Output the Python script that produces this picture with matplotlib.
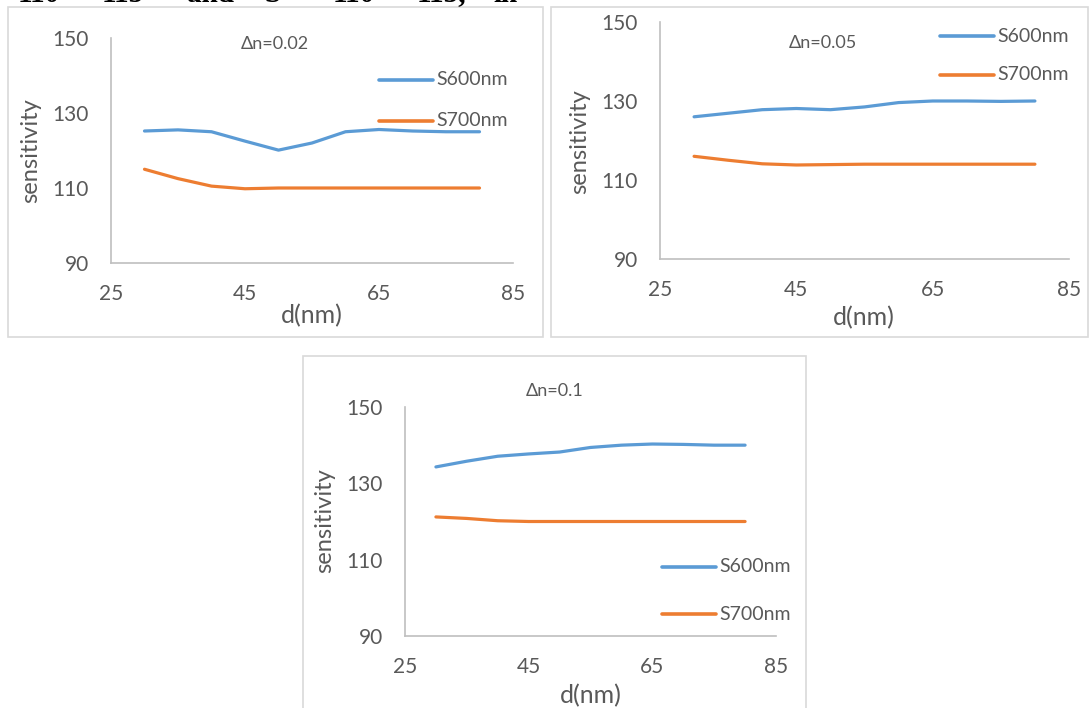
import matplotlib.pyplot as plt
from matplotlib.lines import Line2D
from matplotlib.patches import Rectangle

## data
d = [30, 35, 40, 45, 50, 55, 60, 65, 70, 75, 80]

s600_002 = [125.2, 125.5, 125.0, 122.5, 120.1, 122.0, 125.0, 125.6, 125.2, 125.0, 125.0]
s700_002 = [115.0, 112.5, 110.5, 109.8, 110.0, 110.0, 110.0, 110.0, 110.0, 110.0, 110.0]

s600_005 = [126.0, 126.9, 127.8, 128.1, 127.8, 128.5, 129.6, 130.0, 130.0, 129.9, 130.0]
s700_005 = [116.0, 115.0, 114.1, 113.8, 113.9, 114.0, 114.0, 114.0, 114.0, 114.0, 114.0]

s600_01 = [134.3, 135.8, 137.1, 137.7, 138.2, 139.4, 140.0, 140.3, 140.2, 140.0, 140.0]
s700_01 = [121.2, 120.8, 120.2, 120.0, 120.0, 120.0, 120.0, 120.0, 120.0, 120.0, 120.0]

xticks = [25, 45, 65, 85]
yticks = [90, 110, 130, 150]
labels = ['S600nm', 'S700nm']
titles = ['\u0394n=0.02', '\u0394n=0.05', '\u0394n=0.1']

# header fragments cut off at the top of the page
header = ['110', '115', 'and', 'S', '110', '115,', 'in']
header_x = [18, 102, 187, 265, 333, 417, 493]

## style
BLUE = '#5B9BD5'
ORANGE = '#ED7D31'
GREY = '#595959'
plt.rcParams['font.family'] = ['Lato', 'DejaVu Sans']

W, H = 1090, 708
fig = plt.figure(figsize=(W / 100, H / 100), dpi=100)


def fx(x):
    return x / W


def fy(y):
    return 1 - y / H


def panel(box, ax_box, s600, s700, title, title_xy, leg_x, leg_y, ylab_xy, xlab_xy):
    # outer chart border
    x0, y0, x1, y1 = box
    fig.add_artist(Rectangle((fx(x0), fy(y1)), (x1 - x0) / W, (y1 - y0) / H,
                             transform=fig.transFigure, fill=False,
                             edgecolor='#D9D9D9', lw=1.2))
    a0, at, a1, ab = ax_box
    ax = fig.add_axes([fx(a0), fy(ab), (a1 - a0) / W, (ab - at) / H])
    ax.plot(d, s600, color=BLUE, lw=2.3, solid_joinstyle='round', solid_capstyle='round')
    ax.plot(d, s700, color=ORANGE, lw=2.3, solid_joinstyle='round', solid_capstyle='round')
    ax.set_xlim(25, 85)
    ax.set_ylim(90, 150)
    ax.set_xticks(xticks)
    ax.set_yticks(yticks)
    for s in ['top', 'right']:
        ax.spines[s].set_visible(False)
    for s in ['left', 'bottom']:
        ax.spines[s].set_color('#BFBFBF')
        ax.spines[s].set_linewidth(1.2)
    ax.tick_params(axis='y', length=0, pad=16, labelsize=15, labelcolor=GREY)
    ax.tick_params(axis='x', length=0, pad=15, labelsize=15, labelcolor=GREY)
    ax.patch.set_alpha(0)

    fig.text(fx(title_xy[0]), fy(title_xy[1]), title, ha='center', va='center',
             fontsize=13, color=GREY)
    fig.text(fx(ylab_xy[0]), fy(ylab_xy[1]), 'sensitivity', rotation=90,
             ha='center', va='center', fontsize=17, color=GREY)
    fig.text(fx(xlab_xy[0]), fy(xlab_xy[1]), 'd(nm)', ha='center', va='center',
             fontsize=18, color=GREY)

    # legend, Excel style
    for lab, col, ly in zip(labels, [BLUE, ORANGE], leg_y):
        fig.add_artist(Line2D([fx(leg_x), fx(leg_x + 54)], [fy(ly), fy(ly)],
                              transform=fig.transFigure, color=col, lw=2.6,
                              solid_capstyle='round'))
        fig.text(fx(leg_x + 57), fy(ly), lab, ha='left', va='center',
                 fontsize=14, color=GREY)
    return ax


panel((8, 7, 543, 337), (111, 38, 513, 263), s600_002, s700_002, titles[0],
      (275, 44), 379, (79.5, 121), (31, 151), (312, 316))
panel((551, 7, 1088, 337), (660, 22, 1069, 259), s600_005, s700_005, titles[1],
      (823, 43), 940, (36, 75), (580, 142), (864, 318))
panel((303, 356, 806, 730), (405, 407, 776, 636), s600_01, s700_01, titles[2],
      (555, 391), 662, (567, 614), (325, 521), (591, 696))

for t, x in zip(header, header_x):
    fig.text(fx(x), fy(1.5), t, ha='left', va='baseline', fontsize=21,
             fontweight='bold', family=['Liberation Serif', 'DejaVu Serif'])

fig.savefig('out.png', dpi=100)
